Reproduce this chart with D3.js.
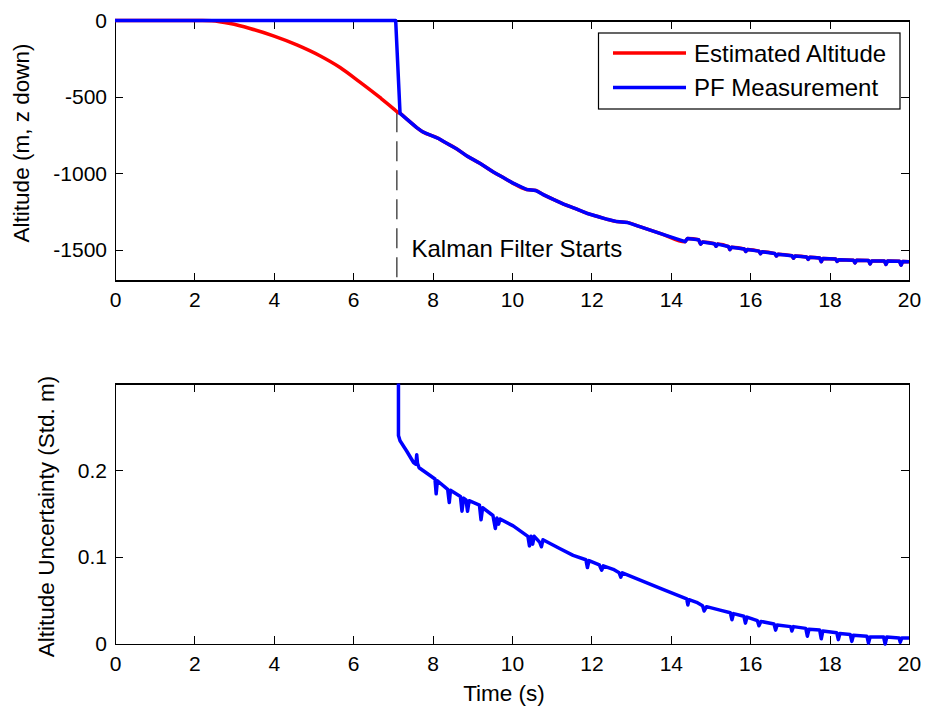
<!DOCTYPE html>
<html>
<head>
<meta charset="utf-8">
<script src="https://cdn.jsdelivr.net/npm/d3@7"></script>
<style>
  html, body { margin: 0; padding: 0; background: #fff; }
  svg { display: block; font-family: "Liberation Sans", Arial, sans-serif; }
  .axis path, .axis line { stroke: #000; shape-rendering: crispEdges; }
  .axis text { font-size: 21px; fill: #000; }
</style>
</head>
<body>
<svg id="chart" width="925" height="713"></svg>
<script>
// ---- data ----
const xTicks = [0, 2, 4, 6, 8, 10, 12, 14, 16, 18, 20];
const altTicks = [-1500, -1000, -500, 0];
const sigmaTicks = [0, 0.1, 0.2];
const kalmanStart = 7.1;

// descent after the filter starts (shared by estimate and measurement)
const descentTime = [7.18, 7.35, 7.6, 7.75, 8.14, 8.3, 8.6, 8.86, 9.2, 9.53, 9.8, 10.0, 10.37, 10.6, 10.8, 11.04,
  11.3, 11.6, 11.88, 12.2, 12.4, 12.64, 12.9, 13.22, 13.8, 14.36, 14.42, 14.7, 14.75, 14.8, 15.1, 15.14, 15.18,
  15.45, 15.49, 15.53, 15.85, 15.89, 15.93, 16.22, 16.26, 16.3, 16.62, 16.66, 16.7, 17.05, 17.09, 17.13, 17.42,
  17.46, 17.5, 17.75, 17.79, 17.83, 18.15, 18.19, 18.23, 18.6, 18.64, 18.68, 18.98, 19.02, 19.06, 19.38, 19.42,
  19.46, 19.76, 19.8, 19.84, 20.0];
const descentAlt = [-607, -645, -700, -728, -770, -795, -838, -885, -935, -990, -1030, -1060, -1105, -1112, -1140, -1170,
  -1200, -1230, -1260, -1285, -1300, -1315, -1320, -1348, -1398, -1446, -1425, -1434, -1462, -1448, -1460, -1476, -1462,
  -1478, -1498, -1482, -1494, -1510, -1497, -1508, -1525, -1512, -1524, -1540, -1528, -1538, -1554, -1540, -1546,
  -1562, -1548, -1553, -1577, -1556, -1560, -1575, -1564, -1567, -1585, -1568, -1570, -1592, -1572, -1572, -1595,
  -1573, -1574, -1600, -1576, -1578];

// estimated altitude before the filter starts
const estTime = [0, 2.2, 2.44, 2.9, 3.4, 3.99, 4.58, 5.16, 5.67, 6.17, 6.68, 7.05, 7.12];
const estAlt = [0, 0, -2, -20, -52, -100, -159, -230, -307, -403, -505, -584, -600];

// particle-filter measurement before the filter starts
const pfTime = [0, 7.07];
const pfAlt = [0, 0];

// altitude standard deviation
const sigmaTime = [7.14, 7.14, 7.18, 7.35, 7.52, 7.58, 7.6, 7.62, 7.66, 8.06, 8.09, 8.12, 8.38, 8.42, 8.45, 8.7,
  8.74, 8.78, 8.84, 8.88, 8.92, 9.18, 9.22, 9.26, 9.52, 9.58, 9.62, 9.66, 9.7, 10.03, 10.4, 10.44, 10.48, 10.52,
  10.56, 10.62, 10.7, 10.74, 10.78, 11.2, 11.54, 11.86, 11.9, 11.94, 12.2, 12.26, 12.3, 12.55, 12.7, 12.74, 12.78,
  13.8, 14.4, 14.43, 14.46, 14.65, 14.8, 14.84, 14.9, 15.24, 15.5, 15.54, 15.58, 15.84, 15.88, 15.92, 16.18, 16.22,
  16.27, 16.6, 16.64, 16.68, 17.02, 17.05, 17.09, 17.4, 17.44, 17.48, 17.75, 17.79, 17.83, 18.18, 18.22, 18.26,
  18.52, 18.56, 18.6, 18.94, 18.98, 19.02, 19.36, 19.4, 19.44, 19.75, 19.78, 19.82, 20.0];
const sigmaVal = [0.5, 0.240, 0.234, 0.222, 0.209, 0.207, 0.218, 0.208, 0.203, 0.190, 0.173, 0.188, 0.178, 0.163, 0.177, 0.170,
  0.153, 0.168, 0.166, 0.153, 0.165, 0.160, 0.143, 0.157, 0.148, 0.133, 0.145, 0.138, 0.144, 0.136, 0.124, 0.113, 0.124, 0.115,
  0.124, 0.121, 0.117, 0.112, 0.120, 0.110, 0.102, 0.097, 0.088, 0.096, 0.091, 0.085, 0.090, 0.086, 0.082, 0.077, 0.082,
  0.063, 0.052, 0.045, 0.051, 0.048, 0.044, 0.038, 0.043, 0.039, 0.036, 0.028, 0.035, 0.032, 0.024, 0.031, 0.027, 0.021,
  0.026, 0.023, 0.016, 0.022, 0.020, 0.015, 0.020, 0.018, 0.009, 0.017, 0.016, 0.006, 0.015, 0.013, 0.005, 0.012,
  0.011, 0.003, 0.010, 0.009, 0.001, 0.008, 0.008, 0.000, 0.008, 0.007, 0.002, 0.007, 0.007];

// ---- layout ----
const svg = d3.select("#chart");
const left = 115, right = 909;
const top1 = 20.5, bottom1 = 280.5;
const top2 = 383.5, bottom2 = 644;

const x = d3.scaleLinear().domain([0, 20]).range([left, right]);
const yAlt = d3.scaleLinear().domain([-1700, 0]).range([bottom1, top1]);
const ySig = d3.scaleLinear().domain([0, 0.3]).range([bottom2, top2]);

function zip(ts, vs) { return ts.map((t, i) => [t, vs[i]]); }

function frame(y, y0, y1, yTicks, fmt) {
  const g = svg.append("g");
  g.append("g").attr("class", "axis").attr("transform", `translate(0,${y1})`)
    .call(d3.axisBottom(x).tickValues(xTicks).tickSize(-8).tickPadding(12).tickFormat(d => String(d)));
  g.append("g").attr("class", "axis").attr("transform", `translate(0,${y0})`)
    .call(d3.axisTop(x).tickValues(xTicks).tickSize(-8).tickFormat(""));
  g.append("g").attr("class", "axis").attr("transform", `translate(${left},0)`)
    .call(d3.axisLeft(y).tickValues(yTicks).tickSize(-8).tickPadding(8).tickFormat(fmt));
  g.append("g").attr("class", "axis").attr("transform", `translate(${right},0)`)
    .call(d3.axisRight(y).tickValues(yTicks).tickSize(-8).tickFormat(""));
  g.selectAll(".axis .domain").attr("stroke-width", 1.2);
  return g;
}

// ---- top panel: altitude ----
frame(yAlt, top1, bottom1, altTicks, d => String(d));

const lineAlt = d3.line().x(d => x(d[0])).y(d => yAlt(d[1]));
const lineEst = d3.line().x(d => x(d[0])).y(d => yAlt(d[1])).curve(d3.curveMonotoneX);
const estSeries = zip(estTime, estAlt).concat(zip(descentTime, descentAlt));
const pfSeries = zip(pfTime, pfAlt).concat(zip(descentTime, descentAlt));

// marker for the moment the Kalman filter takes over
svg.append("line")
  .attr("x1", x(kalmanStart)).attr("x2", x(kalmanStart))
  .attr("y1", yAlt(-600)).attr("y2", yAlt(-1700))
  .attr("stroke", "#222").attr("stroke-width", 1.2).attr("stroke-dasharray", "20,9");

svg.append("path").datum(estSeries).attr("d", lineEst)
  .attr("fill", "none").attr("stroke", "#ff0000").attr("stroke-width", 3.5).attr("stroke-linejoin", "round");
svg.append("path").datum(pfSeries).attr("d", lineAlt)
  .attr("fill", "none").attr("stroke", "#0000ff").attr("stroke-width", 3.5).attr("stroke-linejoin", "round");

svg.append("text").attr("x", 411.5).attr("y", 257).attr("font-size", 24).text("Kalman Filter Starts");

svg.append("text")
  .attr("transform", `translate(29,143) rotate(-90)`)
  .attr("text-anchor", "middle").attr("font-size", 22.5)
  .text("Altitude (m, z down)");

// legend
const lg = svg.append("g");
lg.append("rect").attr("x", 598.5).attr("y", 33).attr("width", 301.5).attr("height", 76)
  .attr("fill", "#fff").attr("stroke", "#000").attr("stroke-width", 1.2);
const legendItems = [["Estimated Altitude", "#ff0000"], ["PF Measurement", "#0000ff"]];
legendItems.forEach(([label, color], i) => {
  const cy = 53 + i * 34.5;
  lg.append("line").attr("x1", 613).attr("x2", 686).attr("y1", cy).attr("y2", cy)
    .attr("stroke", color).attr("stroke-width", 3.5);
  lg.append("text").attr("x", 694).attr("y", cy + 8.7).attr("font-size", 24).text(label);
});

// ---- bottom panel: uncertainty ----
frame(ySig, top2, bottom2, sigmaTicks, d => d === 0 ? "0" : d3.format(".1f")(d));

svg.append("clipPath").attr("id", "clipSig").append("rect")
  .attr("x", left - 5).attr("y", top2).attr("width", right - left + 10).attr("height", bottom2 - top2 + 6);

const lineSig = d3.line().x(d => x(d[0])).y(d => ySig(d[1]));
svg.append("path").datum(zip(sigmaTime, sigmaVal)).attr("d", lineSig)
  .attr("clip-path", "url(#clipSig)")
  .attr("fill", "none").attr("stroke", "#0000ff").attr("stroke-width", 3.5).attr("stroke-linejoin", "round");

svg.append("text")
  .attr("transform", `translate(54,516.5) rotate(-90)`)
  .attr("text-anchor", "middle").attr("font-size", 22.5)
  .text("Altitude Uncertainty (Std. m)");

svg.append("text").attr("x", 504).attr("y", 701).attr("text-anchor", "middle").attr("font-size", 22.5)
  .text("Time (s)");
</script>
</body>
</html>
